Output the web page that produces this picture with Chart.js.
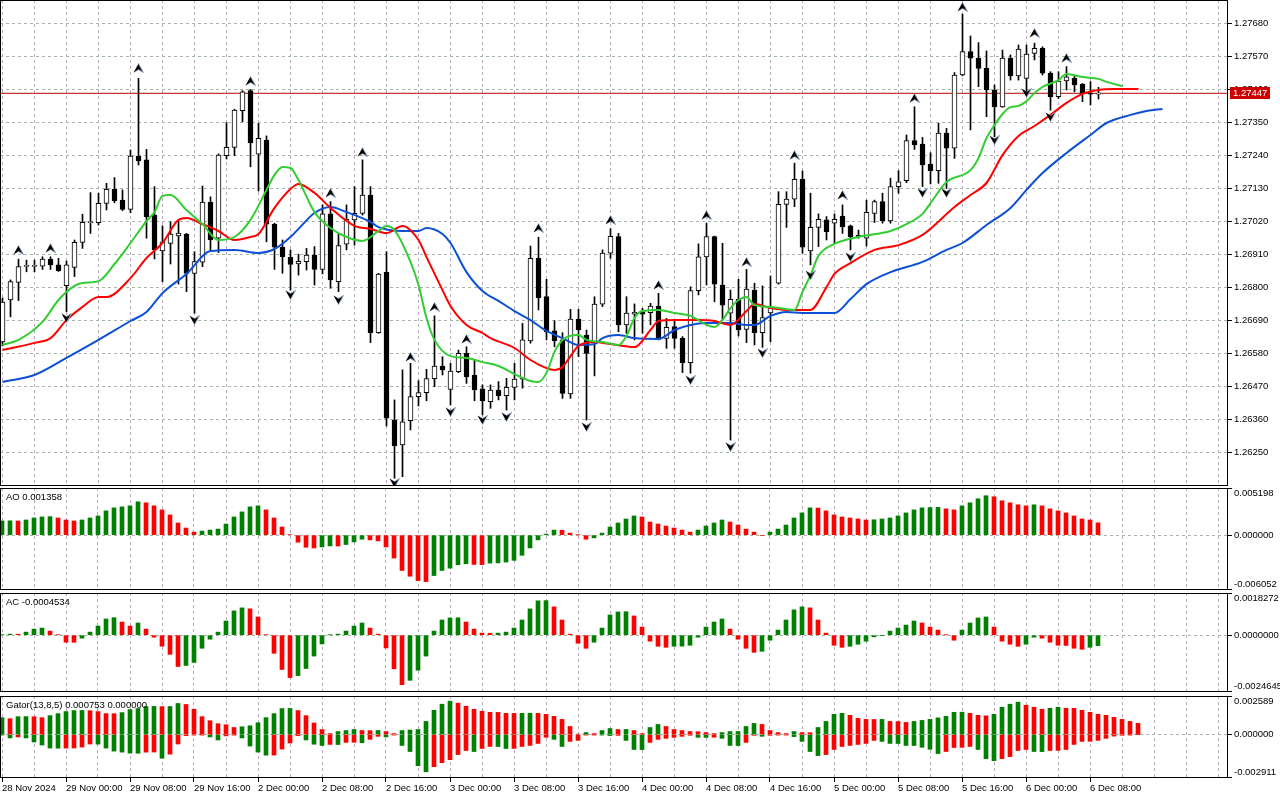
<!DOCTYPE html>
<html><head><meta charset="utf-8">
<script src="https://cdn.jsdelivr.net/npm/chart.js"></script>
<style>
html,body{margin:0;padding:0;background:#fff;overflow:hidden;width:1280px;height:800px}
canvas{position:absolute;left:0}
</style></head><body>
<canvas id="cMain" width="1280" height="486" style="top:0px"></canvas>
<canvas id="cAO" width="1280" height="102" style="top:488px"></canvas>
<canvas id="cAC" width="1280" height="99" style="top:593px"></canvas>
<canvas id="cGator" width="1280" height="104" style="top:696px"></canvas>
<script>
// ---------------- DATA (GBPUSD H1) ----------------
const timeTickIdx = [0,8,16,24,32,40,48,56,64,72,80,88,96,104,112,120,128,136];
const timeLabels = ["28 Nov 2024","29 Nov 00:00","29 Nov 08:00","29 Nov 16:00","2 Dec 00:00","2 Dec 08:00","2 Dec 16:00","3 Dec 00:00","3 Dec 08:00","3 Dec 16:00","4 Dec 00:00","4 Dec 08:00","4 Dec 16:00","5 Dec 00:00","5 Dec 08:00","5 Dec 16:00","6 Dec 00:00","6 Dec 08:00"];
const priceTicks = [1.2625,1.2636,1.2647,1.2658,1.2669,1.2680,1.2691,1.2702,1.2713,1.2724,1.2735,1.2746,1.2757,1.2768];
const priceRange = [1.26138, 1.27758];
const aoRange = [-0.006052, 0.005198];
const acRange = [-0.0024645, 0.0018272];
const gatorRange = [-0.002911, 0.002589];

const opens = [
1.26618,1.26758,1.26817,1.26870,1.26870,1.26871,1.26894,1.26875,1.26806,1.26867,
1.26950,1.27016,1.27016,1.27080,1.27127,1.27091,1.27060,1.27238,1.27225,1.27041,
1.26922,1.26947,1.26972,1.26978,1.26847,1.26884,1.27084,1.26964,1.27239,1.27267,
1.27389,1.27456,1.27244,1.27291,1.27011,1.26934,1.26900,1.26878,1.26886,1.26908,
1.26860,1.27045,1.26819,1.26944,1.27025,1.27047,1.27108,1.26649,1.26850,1.26358,
1.26275,1.26356,1.26436,1.26449,1.26496,1.26538,1.26460,1.26519,1.26580,1.26507,
1.26462,1.26419,1.26458,1.26439,1.26467,1.26494,1.26622,1.26897,1.26769,1.26655,
1.26625,1.26445,1.26694,1.26641,1.26616,1.26744,1.26914,1.26969,1.26675,1.26711,
1.26719,1.26716,1.26738,1.26630,1.26669,1.26630,1.26549,1.26789,1.26902,1.26969,
1.26808,1.26714,1.26760,1.26660,1.26791,1.26649,1.26715,1.26814,1.27077,1.27094,
1.27160,1.26922,1.27000,1.27025,1.27014,1.27038,1.27005,1.26971,1.26964,1.27047,
1.27086,1.27022,1.27136,1.27156,1.27289,1.27278,1.27211,1.27189,1.27314,1.27264,
1.27508,1.27586,1.27564,1.27530,1.27458,1.27402,1.27564,1.27505,1.27497,1.27580,
1.27597,1.27514,1.27436,1.27488,1.27497,1.27477,1.27445,1.27444];
const highs = [
1.26765,1.26825,1.26894,1.26891,1.26891,1.26902,1.26902,1.26897,1.26888,1.26958,
1.27044,1.27116,1.27114,1.27147,1.27166,1.27125,1.27258,1.27497,1.27260,1.27136,
1.27005,1.27019,1.27025,1.26980,1.26919,1.27138,1.27102,1.27245,1.27349,1.27394,
1.27456,1.27460,1.27347,1.27305,1.27014,1.26958,1.26925,1.26911,1.26930,1.26936,
1.27075,1.27086,1.26980,1.27075,1.27136,1.27225,1.27136,1.26847,1.26919,1.26425,
1.26525,1.26547,1.26489,1.26527,1.26705,1.26569,1.26547,1.26591,1.26602,1.26560,
1.26475,1.26475,1.26486,1.26497,1.26547,1.26680,1.26938,1.26967,1.26827,1.26689,
1.26649,1.26727,1.26727,1.26658,1.26769,1.26925,1.26996,1.26980,1.26769,1.26745,
1.26730,1.26747,1.26780,1.26697,1.26691,1.26636,1.26802,1.26945,1.27014,1.26971,
1.26947,1.26791,1.26827,1.26860,1.26814,1.26805,1.26838,1.27119,1.27119,1.27214,
1.27188,1.27114,1.27045,1.27036,1.27045,1.27075,1.27008,1.26991,1.27091,1.27091,
1.27114,1.27164,1.27189,1.27308,1.27402,1.27300,1.27249,1.27347,1.27330,1.27516,
1.27711,1.27638,1.27616,1.27588,1.27475,1.27591,1.27575,1.27608,1.27608,1.27614,
1.27602,1.27519,1.27519,1.27536,1.27505,1.27480,1.27486,1.27467];
const lows = [
1.26605,1.26702,1.26756,1.26852,1.26852,1.26860,1.26860,1.26853,1.26719,1.26836,
1.26930,1.26980,1.27008,1.27058,1.27082,1.27056,1.27049,1.27208,1.26964,1.26895,
1.26819,1.26878,1.26811,1.26786,1.26714,1.26869,1.26925,1.26916,1.27228,1.27239,
1.27352,1.27202,1.27121,1.26952,1.26860,1.26847,1.26791,1.26841,1.26858,1.26808,
1.26845,1.26797,1.26786,1.26925,1.26941,1.27041,1.26616,1.26647,1.26338,1.26164,
1.26169,1.26325,1.26405,1.26422,1.26469,1.26508,1.26408,1.26516,1.26480,1.26422,
1.26375,1.26397,1.26425,1.26391,1.26425,1.26464,1.26614,1.26725,1.26625,1.26602,
1.26430,1.26430,1.26569,1.26358,1.26505,1.26736,1.26897,1.26652,1.26647,1.26625,
1.26647,1.26675,1.26625,1.26597,1.26597,1.26516,1.26514,1.26775,1.26808,1.26752,
1.26691,1.26291,1.26638,1.26616,1.26608,1.26600,1.26619,1.26811,1.27000,1.27069,
1.26914,1.26875,1.26936,1.26958,1.26947,1.26980,1.26925,1.26964,1.26938,1.27016,
1.27014,1.27014,1.27114,1.27149,1.27260,1.27136,1.27145,1.27147,1.27130,1.27230,
1.27505,1.27325,1.27469,1.27369,1.27302,1.27400,1.27491,1.27491,1.27452,1.27558,
1.27508,1.27391,1.27430,1.27458,1.27452,1.27419,1.27408,1.27428];
const closes = [
1.26751,1.26819,1.26869,1.26871,1.26872,1.26894,1.26875,1.26856,1.26875,1.26950,
1.27017,1.27017,1.27080,1.27127,1.27089,1.27060,1.27238,1.27222,1.27036,1.26925,
1.26952,1.26978,1.26981,1.26847,1.26886,1.27084,1.26958,1.27241,1.27267,1.27391,
1.27452,1.27282,1.27297,1.27011,1.26934,1.26902,1.26877,1.26887,1.26908,1.26860,
1.27045,1.26825,1.26939,1.27028,1.27047,1.27108,1.26649,1.26844,1.26364,1.26272,
1.26352,1.26436,1.26449,1.26496,1.26538,1.26525,1.26521,1.26580,1.26502,1.26458,
1.26422,1.26458,1.26439,1.26467,1.26494,1.26625,1.26897,1.26766,1.26652,1.26622,
1.26447,1.26694,1.26658,1.26580,1.26744,1.26914,1.26970,1.26675,1.26714,1.26717,
1.26711,1.26738,1.26630,1.26667,1.26630,1.26549,1.26789,1.26902,1.26969,1.26811,
1.26741,1.26760,1.26658,1.26794,1.26649,1.26699,1.26735,1.27077,1.27094,1.27160,
1.26934,1.27000,1.27027,1.26986,1.27027,1.27002,1.26969,1.26970,1.27050,1.27086,
1.27022,1.27136,1.27152,1.27289,1.27275,1.27208,1.27189,1.27314,1.27264,1.27508,
1.27586,1.27564,1.27530,1.27458,1.27402,1.27564,1.27505,1.27594,1.27578,1.27597,
1.27514,1.27436,1.27488,1.27502,1.27475,1.27447,1.27444,1.27447];

// Alligator (13,8,5) lines, sampled at bar indices (already shifted forward)
const jawIdx = [0,4,8,12,16,18,20,23,26,29,32,34,36,37,39,41,43,46,47,50,52,53,55,56,58,60,62,64,66,68,70,72,74,75,77,79,82,84,86,88,91,93,94,96,98,100,104,106,108,111,115,118,120,123,126,128,130,133,136,138,141,143,145];
const jawVal = [1.26485,1.26508,1.26565,1.26625,1.26688,1.26718,1.26781,1.26845,1.26921,1.26925,1.26915,1.26928,1.26968,1.26995,1.27048,1.27068,1.27051,1.27018,1.27001,1.26988,1.26988,1.26998,1.26978,1.26948,1.26851,1.26788,1.26755,1.26721,1.26691,1.26655,1.26631,1.26608,1.26611,1.26631,1.26641,1.26631,1.26628,1.26658,1.26675,1.26681,1.26681,1.26675,1.26675,1.26705,1.26718,1.26715,1.26715,1.26761,1.26811,1.26851,1.26885,1.26925,1.26948,1.27008,1.27065,1.27125,1.27181,1.27248,1.27308,1.27348,1.27375,1.27388,1.27395];
const teethIdx = [0,4,6,8,10,12,13,16,18,20,22,23,25,27,29,31,32,34,36,37,39,41,44,46,48,50,52,53,55,56,58,60,61,64,66,68,69,70,71,72,74,76,79,81,82,84,87,89,91,93,94,96,98,101,103,104,106,109,112,115,119,121,123,125,127,129,131,133,135,137,139,142];
const teethVal = [1.26591,1.26615,1.26631,1.26691,1.26735,1.26768,1.26768,1.26831,1.26898,1.26948,1.27025,1.27031,1.27011,1.26988,1.26958,1.26968,1.26978,1.27065,1.27128,1.27145,1.27115,1.27065,1.27005,1.26995,1.26981,1.27005,1.26958,1.26901,1.26791,1.26738,1.26675,1.26648,1.26631,1.26598,1.26558,1.26531,1.26525,1.26535,1.26571,1.26605,1.26618,1.26611,1.26601,1.26658,1.26688,1.26691,1.26691,1.26688,1.26675,1.26721,1.26745,1.26731,1.26725,1.26725,1.26801,1.26845,1.26881,1.26925,1.26941,1.26975,1.27068,1.27108,1.27148,1.27241,1.27305,1.27338,1.27375,1.27415,1.27445,1.27458,1.27461,1.27461];
const lipsIdx = [0,2,5,7,9,10,12,14,16,18,19,20,21,23,25,27,29,31,33,34,35,36,37,39,41,43,45,47,48,49,51,52,53,54,56,58,60,62,64,66,67,68,69,70,72,73,75,77,78,79,80,82,84,86,88,89,90,91,92,93,94,96,99,100,101,102,104,107,111,113,115,116,118,121,122,123,124,125,126,127,128,129,130,132,133,135,137,138,140];
const lipsVal = [1.26608,1.26625,1.26685,1.26758,1.26805,1.26815,1.26821,1.26878,1.26948,1.27021,1.27051,1.27105,1.27108,1.27058,1.27011,1.26958,1.26968,1.27025,1.27125,1.27175,1.27201,1.27198,1.27158,1.27051,1.26998,1.26968,1.26955,1.26988,1.27005,1.26991,1.26885,1.26808,1.26698,1.26625,1.26571,1.26565,1.26551,1.26538,1.26511,1.26488,1.26485,1.26515,1.26585,1.26625,1.26641,1.26625,1.26618,1.26608,1.26638,1.26698,1.26721,1.26725,1.26715,1.26705,1.26675,1.26668,1.26691,1.26731,1.26758,1.26768,1.26741,1.26735,1.26725,1.26785,1.26841,1.26905,1.26945,1.26968,1.26988,1.27011,1.27045,1.27081,1.27151,1.27191,1.27231,1.27298,1.27341,1.27378,1.27401,1.27405,1.27421,1.27448,1.27468,1.27491,1.27511,1.27501,1.27495,1.27485,1.27471];

// Fractals
const fracUpIdx = [2,6,17,31,41,45,51,54,58,67,76,82,88,93,99,105,114,120,129,133];
const fracUpVal = [1.26925,1.26931,1.27531,1.27488,1.27115,1.27251,1.26568,1.26735,1.26628,1.26998,1.27025,1.26808,1.27041,1.26885,1.27241,1.27108,1.27431,1.27735,1.27648,1.27565];
const fracDnIdx = [8,24,36,42,49,56,60,63,73,86,91,95,101,106,115,118,124,128,131];
const fracDnVal = [1.26698,1.26691,1.26775,1.26758,1.26148,1.26385,1.26358,1.26368,1.26335,1.26491,1.26268,1.26581,1.26841,1.26901,1.27115,1.27115,1.27291,1.27448,1.27368];

// Awesome Oscillator
const aoVals = [
0.00156,0.001582,0.00156,0.001671,0.001894,0.002005,0.002039,0.001894,0.001671,0.00156,
0.001671,0.001894,0.002117,0.002674,0.003008,0.003119,0.003231,0.003676,0.003565,0.003231,
0.002785,0.002228,0.001337,0.00078,0.000334,0.000446,0.000557,0.000668,0.001225,0.002005,
0.002562,0.003119,0.003231,0.002785,0.001894,0.000891,0.000045,-0.00078,-0.001337,-0.001415,
-0.001303,-0.001192,-0.001203,-0.001036,-0.000746,-0.000446,-0.000524,-0.000635,-0.001303,-0.002529,
-0.003899,-0.004534,-0.005013,-0.005124,-0.004456,-0.003899,-0.003643,-0.003264,-0.003153,-0.003231,
-0.003253,-0.003086,-0.003064,-0.002974,-0.002785,-0.002228,-0.001415,-0.000524,0.000111,0.000557,
0.000535,0.000223,0.000033,-0.000446,-0.000301,0.000223,0.000891,0.001337,0.001782,0.002117,
0.002005,0.001448,0.001225,0.001003,0.00078,0.000557,0.000334,0.000557,0.001003,0.001337,
0.001671,0.001448,0.001114,0.000668,0.000334,-0.000045,0.000334,0.000668,0.001114,0.001894,
0.002451,0.003008,0.002986,0.002674,0.002228,0.002005,0.001894,0.001782,0.001671,0.001693,
0.001782,0.001894,0.002117,0.002451,0.002785,0.003008,0.003041,0.003064,0.002896,0.002785,
0.003231,0.003565,0.00401,0.004345,0.004233,0.003788,0.003565,0.003342,0.003231,0.003342,
0.003231,0.002896,0.002674,0.002451,0.002117,0.001782,0.001671,0.001358];

// Accelerator Oscillator
const acVals = [
0.000013,0.000044,0.00004,0.000131,0.000263,0.000307,0.000175,0.000013,-0.000307,-0.00031,
-0.000131,0.000131,0.000394,0.000701,0.000758,0.000569,0.000394,0.000526,0.000263,-0.000088,
-0.000482,-0.000832,-0.001358,-0.001314,-0.001183,-0.000569,-0.000175,0.000131,0.000613,0.001051,
0.001183,0.001139,0.000788,0.000013,-0.000788,-0.001489,-0.00184,-0.001752,-0.001445,-0.000907,
-0.000381,0.000013,0.000044,0.000175,0.000394,0.000526,0.000307,0.000044,-0.000556,-0.001459,
-0.002146,-0.001958,-0.00152,-0.000907,0.000175,0.000657,0.000745,0.000753,0.000569,0.000263,
0.000088,0.000083,0.000088,0.000131,0.000307,0.000657,0.001139,0.001489,0.001498,0.001226,
0.000657,0.000044,-0.00035,-0.000569,-0.000307,0.000307,0.000876,0.001007,0.001016,0.000832,
0.00035,-0.000263,-0.000482,-0.000526,-0.000482,-0.000477,-0.000438,-0.000088,0.00035,0.000569,
0.000701,0.000263,-0.000175,-0.000569,-0.000745,-0.000701,-0.000219,0.000219,0.000657,0.001095,
0.001226,0.001183,0.000657,0.000088,-0.000438,-0.000526,-0.000482,-0.000394,-0.000263,-0.000074,
-0.000013,0.000175,0.000307,0.000438,0.000613,0.000526,0.00035,0.000219,0.000013,-0.000219,
0.000219,0.000526,0.000745,0.000788,0.00035,-0.000263,-0.000394,-0.000482,-0.000394,-0.000088,
-0.000131,-0.000307,-0.000438,-0.000447,-0.000569,-0.000613,-0.000526,-0.0004534];

// Gator oscillator (13,8,5)
const gatorUp = [
0.001136,0.001068,0.001204,0.00121,0.001197,0.001136,0.001272,0.001408,0.001544,0.001612,
0.001618,0.001605,0.001544,0.001408,0.001401,0.001476,0.00168,0.001748,0.001884,0.00189,
0.001877,0.001884,0.002088,0.00202,0.0017,0.001204,0.000932,0.000728,0.00066,0.000476,
0.000524,0.000592,0.000796,0.001136,0.001408,0.001748,0.001754,0.001612,0.001272,0.000782,
0.00034,0.000068,0.000204,0.000272,0.00034,0.000272,0.000265,0.000279,0.000204,0.000068,
0.000272,0.000306,0.00034,0.000884,0.001632,0.00204,0.002244,0.002108,0.001904,0.0017,
0.001564,0.001496,0.001489,0.001428,0.001421,0.001428,0.001435,0.001428,0.00136,0.001224,
0.00102,0.000544,0.000034,0.000136,0.000068,0.000272,0.000408,0.00034,0.000347,0.000272,
0.000068,0.000476,0.00068,0.000544,0.00034,0.000272,0.000204,0.000197,0.000136,0.000068,
0.000136,0.000204,0.000211,0.000544,0.000748,0.00068,0.000272,0.000136,0.000068,0.000204,
0.000136,0.000129,0.000476,0.000884,0.00136,0.001428,0.001292,0.001088,0.00102,0.001013,
0.00102,0.000884,0.000877,0.000816,0.000884,0.000952,0.00102,0.001122,0.001224,0.001496,
0.001503,0.001428,0.001292,0.001258,0.00136,0.001836,0.00204,0.002176,0.001972,0.001836,
0.0017,0.001768,0.001836,0.001768,0.001761,0.001632,0.001496,0.00136,0.001292,0.001156,
0.00102,0.000884,0.000753];
const gatorDn = [
-0.00002,-0.000224,-0.000156,-0.000224,-0.000496,-0.0007,-0.000904,-0.000911,-0.000904,-0.000898,
-0.000836,-0.000632,-0.000639,-0.000904,-0.001108,-0.001176,-0.001244,-0.001251,-0.001176,-0.00117,
-0.001584,-0.001312,-0.000632,-0.000068,-0.000034,-0.00002,-0.000156,-0.00036,-0.000088,-0.00002,
-0.000224,-0.000768,-0.001176,-0.00138,-0.001374,-0.000972,-0.000564,-0.000068,-0.00036,-0.000646,
-0.000728,-0.00066,-0.000666,-0.000524,-0.000517,-0.000544,-0.00032,-0.000116,-0.000156,-0.000034,
-0.000728,-0.001136,-0.002088,-0.002496,-0.002156,-0.001884,-0.00168,-0.00134,-0.001068,-0.001136,
-0.000932,-0.000796,-0.000802,-0.000932,-0.000925,-0.000796,-0.000728,-0.000592,-0.000184,-0.00032,
-0.000796,-0.000456,-0.000388,-0.00002,-0.000014,-0.000034,-0.000068,-0.000054,-0.000388,-0.001,
-0.001006,-0.000524,-0.00032,-0.000252,-0.000184,-0.000116,-0.000048,-0.000184,-0.00019,-0.000177,
-0.000252,-0.000728,-0.000734,-0.000524,-0.000048,-0.000116,-0.000048,-0.000034,-0.000027,-0.000136,
-0.000456,-0.001136,-0.001408,-0.00134,-0.001,-0.000796,-0.000728,-0.00066,-0.000592,-0.000388,
-0.000456,-0.000592,-0.000598,-0.000728,-0.000734,-0.00085,-0.000986,-0.001272,-0.001136,-0.000864,
-0.000857,-0.000796,-0.001,-0.001612,-0.001748,-0.001612,-0.001476,-0.001068,-0.001,-0.001136,
-0.001142,-0.001068,-0.001061,-0.001,-0.00066,-0.000456,-0.000449,-0.000388,-0.000252,-0.000102,
-0.000048,-0.00002,0];

// ---------------- STYLE / LAYOUT ----------------
const FONT = {family: "'Liberation Sans', Arial, sans-serif", size: 9.5};
const FONT_CSS = "9.5px 'Liberation Sans', Arial, sans-serif";
const VGRID = '#b8aabc', HGRID = '#a8b6a8';
const GREEN = '#008000', RED = '#ff0000';
const PLOT_W = 1228, BAR_PX = 8, AXIS_W = 52;
const TRANSP = 'rgba(0,0,0,0)';
const gridIdx = []; for (let v = 0; v <= 152; v += 4) gridIdx.push(v);
const lastPrice = closes[closes.length - 1];

function xScale(min, withLabels) {
  return {
    type: 'linear', min: min, max: min + PLOT_W / BAR_PX, offset: false, display: true,
    afterBuildTicks: s => { s.ticks = gridIdx.map(v => ({value: v})); },
    ticks: withLabels ? {
      display: true, autoSkip: false, maxRotation: 0, minRotation: 0, align: 'start', padding: 1,
      color: '#000', font: FONT,
      callback: v => { const k = timeTickIdx.indexOf(v); return k >= 0 ? timeLabels[k] : ''; }
    } : {display: false},
    grid: {
      display: true, offset: false, color: VGRID, lineWidth: 1, drawTicks: withLabels, tickLength: 4, tickWidth: 1,
      tickColor: c => (c.tick && timeTickIdx.includes(c.tick.value)) ? '#000' : TRANSP, tickBorderDash: []
    },
    border: {display: false, dash: [3, 3]},
    afterFit: s => { s.height = withLabels ? 22 : 0; s.paddingLeft = 0; s.paddingRight = 0; }
  };
}
function yMainScale() {
  return {
    type: 'linear', position: 'right', min: priceRange[0], max: priceRange[1],
    afterBuildTicks: s => { s.ticks = priceTicks.map(v => ({value: v})); },
    ticks: {autoSkip: false, padding: 2, color: '#000', font: FONT, callback: v => v.toFixed(5)},
    grid: {color: HGRID, lineWidth: 1, drawTicks: true, tickLength: 4, tickColor: '#000', tickWidth: 1, tickBorderDash: []},
    border: {display: false, dash: [3, 3]},
    afterFit: s => { s.width = AXIS_W; s.paddingTop = 0; s.paddingBottom = 0; }
  };
}
function yPanelScale(range, digits, hPx) {
  const mn = range[0], mx = range[1];
  const inset = (mx - mn) * 5.5 / hPx;
  const shown = [mn, 0, mx];
  return {
    type: 'linear', position: 'right', min: mn, max: mx,
    afterBuildTicks: s => { s.ticks = [{value: mn + inset}, {value: 0}, {value: mx - inset}]; },
    ticks: {autoSkip: false, padding: 2, color: '#000', font: FONT, callback: (v, i) => shown[i].toFixed(digits)},
    grid: {color: c => c.index === 1 ? HGRID : TRANSP, lineWidth: 1, drawTicks: true, tickLength: 4,
      tickColor: c => c.index === 1 ? '#000' : TRANSP, tickWidth: 1, tickBorderDash: []},
    border: {display: false, dash: [3, 3]},
    afterFit: s => { s.width = AXIS_W; s.paddingTop = 0; s.paddingBottom = 0; }
  };
}

const framePlugin = {
  id: 'frame',
  afterDraw(chart, args, opts) {
    const ctx = chart.ctx, a = chart.chartArea;
    ctx.save();
    ctx.strokeStyle = '#000'; ctx.lineWidth = 1; ctx.setLineDash([]);
    ctx.strokeRect(a.left + 0.5, a.top + 0.5, a.right - a.left - 1, a.bottom - a.top - 1);
    if (opts.corners) {
      ctx.beginPath();
      ctx.moveTo(a.right - 1, a.top + 0.5); ctx.lineTo(a.right + 4, a.top + 0.5);
      ctx.moveTo(a.right - 1, a.bottom - 0.5); ctx.lineTo(a.right + 4, a.bottom - 0.5);
      ctx.stroke();
    }
    if (opts.title) {
      ctx.fillStyle = '#000'; ctx.font = FONT_CSS; ctx.textBaseline = 'middle'; ctx.textAlign = 'left';
      ctx.fillText(opts.title, a.left + 6, a.top + 9);
    }
    if (opts.priceTag) {
      const y = Math.round(chart.scales.y.getPixelForValue(lastPrice));
      ctx.fillStyle = '#cc0000'; ctx.fillRect(a.right + 2, y - 6, 40, 12);
      ctx.fillStyle = '#fff'; ctx.font = FONT_CSS; ctx.textBaseline = 'middle'; ctx.textAlign = 'left';
      ctx.fillText(lastPrice.toFixed(5), a.right + 5, y + 0.5);
    }
    ctx.restore();
  }
};

function arrowImg(up) {
  const c = document.createElement('canvas'); c.width = 11; c.height = 10;
  const g = c.getContext('2d');
  if (!up) { g.translate(0, 10); g.scale(1, -1); }
  g.beginPath(); g.moveTo(5.5, 0.5); g.lineTo(10.5, 9.5); g.lineTo(5.5, 6.5); g.lineTo(0.5, 9.5); g.closePath();
  g.fillStyle = '#000'; g.fill();
  g.beginPath(); g.moveTo(5.5, 0.5); g.lineTo(10.5, 9.5); g.lineTo(5.5, 6.5);
  g.strokeStyle = '#8ea2c0'; g.lineWidth = 1; g.stroke();
  return c;
}
const upImg = arrowImg(true), dnImg = arrowImg(false);

function baseOptions(scales, frameOpts) {
  return {
    responsive: false, animation: false, devicePixelRatio: 1, events: [],
    layout: {padding: 0, autoPadding: false},
    plugins: {legend: {display: false}, tooltip: {enabled: false}, frame: frameOpts},
    scales: scales
  };
}

// ---------------- MAIN CHART ----------------
const bars = closes.map((_, i) => i);
const mainXMin = -0.25 - 0.5 / BAR_PX;
const pts = (idx, val) => idx.map((b, k) => ({x: b, y: val[k]}));
const lineDs = (label, idx, val, color, order) => ({
  type: 'line', label, data: pts(idx, val), borderColor: color, borderWidth: 2, pointRadius: 0,
  tension: 0.4, cubicInterpolationMode: 'monotone', fill: false, order
});

new Chart(document.getElementById('cMain'), {
  type: 'bar',
  data: {datasets: [
    {type: 'line', label: 'Fractal up', data: pts(fracUpIdx, fracUpVal), showLine: false, pointStyle: upImg, pointRadius: 5, order: 0},
    {type: 'line', label: 'Fractal down', data: pts(fracDnIdx, fracDnVal), showLine: false, pointStyle: dnImg, pointRadius: 5, order: 0},
    lineDs('Lips', lipsIdx, lipsVal, '#32cd32', 1),
    lineDs('Teeth', teethIdx, teethVal, '#ff0000', 2),
    lineDs('Jaw', jawIdx, jawVal, '#0b50d6', 3),
    {type: 'bar', label: 'Body', data: bars.map(i => ({x: i, y: [opens[i], closes[i]]})),
      backgroundColor: bars.map(i => closes[i] >= opens[i] ? '#ffffff' : '#000000'),
      borderColor: '#000', borderWidth: 1, borderSkipped: false, barThickness: 5, minBarLength: 1, grouped: false, order: 4},
    {type: 'bar', label: 'Wick', data: bars.map(i => ({x: i, y: [lows[i], highs[i]]})),
      backgroundColor: '#000', borderWidth: 0, barThickness: 1, grouped: false, order: 5},
    {type: 'line', label: 'Bid', data: [{x: mainXMin, y: lastPrice}, {x: mainXMin + PLOT_W / BAR_PX, y: lastPrice}],
      borderColor: '#c00000', borderWidth: 1, pointRadius: 0, order: 6}
  ]},
  options: baseOptions({x: xScale(mainXMin, false), y: yMainScale()}, {priceTag: true}),
  plugins: [framePlugin]
});

// ---------------- OSCILLATORS ----------------
const upDownColors = (vals, useAbs) => vals.map((v, i) => {
  if (i === 0) return GREEN;
  const a = useAbs ? Math.abs(v) : v, b = useAbs ? Math.abs(vals[i - 1]) : vals[i - 1];
  return a > b ? GREEN : RED;
});
const histDs = (label, vals, useAbs) => ({
  type: 'bar', label, data: vals.map((v, i) => ({x: i, y: v})),
  backgroundColor: upDownColors(vals, useAbs), borderWidth: 0, barThickness: 4, grouped: false
});

new Chart(document.getElementById('cAO'), {
  type: 'bar',
  data: {datasets: [histDs('AO', aoVals, false)]},
  options: baseOptions({x: xScale(-0.25, false), y: yPanelScale(aoRange, 6, 102)},
    {corners: true, title: 'AO ' + aoVals[aoVals.length - 1].toFixed(6)}),
  plugins: [framePlugin]
});

new Chart(document.getElementById('cAC'), {
  type: 'bar',
  data: {datasets: [histDs('AC', acVals, false)]},
  options: baseOptions({x: xScale(-0.25, false), y: yPanelScale(acRange, 7, 99)},
    {corners: true, title: 'AC ' + acVals[acVals.length - 1].toFixed(7)}),
  plugins: [framePlugin]
});

new Chart(document.getElementById('cGator'), {
  type: 'bar',
  data: {datasets: [histDs('Gator up', gatorUp, true), histDs('Gator down', gatorDn, true)]},
  options: baseOptions({x: xScale(-0.25, true), y: yPanelScale(gatorRange, 6, 82)},
    {corners: true, title: 'Gator(13,8,5) ' + gatorUp[gatorUp.length - 1].toFixed(6) + ' ' + Math.abs(gatorDn[gatorDn.length - 1]).toFixed(6)}),
  plugins: [framePlugin]
});
</script>
</body></html>
